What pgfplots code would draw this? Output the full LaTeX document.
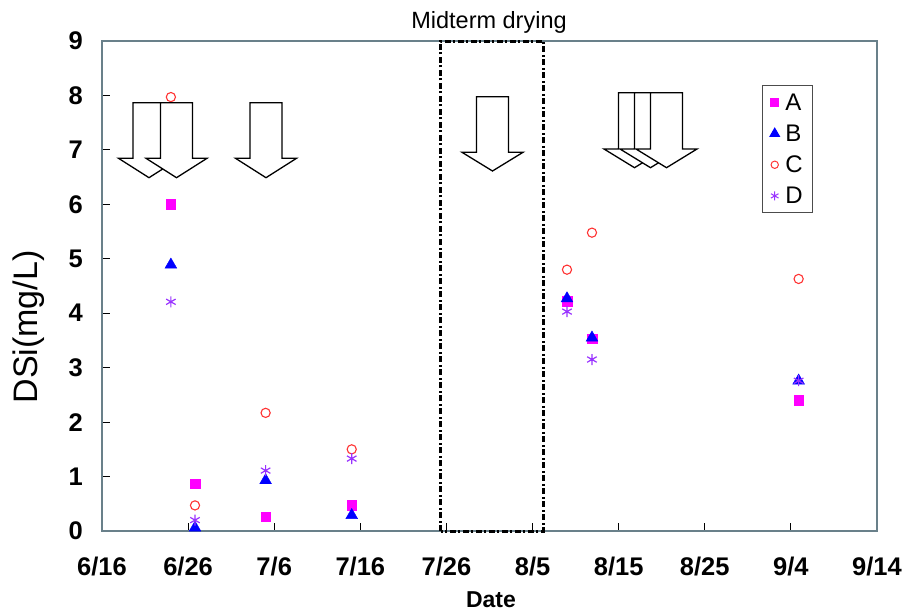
\documentclass[border=0pt]{standalone}
\usepackage{pgfplots}
\pgfplotsset{compat=1.18}
\usepackage{fontspec}
\setmainfont{Liberation Sans}
\definecolor{axcol}{RGB}{105,128,138}
\definecolor{colA}{RGB}{255,0,255}
\definecolor{colB}{RGB}{0,0,255}
\definecolor{colC}{RGB}{255,51,51}
\definecolor{colD}{RGB}{153,51,255}
\newcommand{\blockarrow}[4]{%
  \filldraw[fill=white, draw=black, line width=1.3pt, line join=miter]
  ({#1-16},{611-#2}) -- ({#1-16},{611-#3}) -- ({#1-30.5},{611-#3}) -- ({#1},{611-#4})
  -- ({#1+30.5},{611-#3}) -- ({#1+16},{611-#3}) -- ({#1+16},{611-#2}) -- cycle;}
\begin{document}
\begin{tikzpicture}[x=1pt,y=1pt]
\useasboundingbox (0pt,0pt) rectangle (904pt,611pt);
\begin{axis}[
  at={(102pt,80pt)}, anchor=south west,
  width=775pt, height=490pt, scale only axis,
  xmin=0, xmax=90, ymin=0, ymax=9,
  clip=false,
  xtick={0,10,...,90},
  xticklabels={6/16,6/26,7/6,7/16,7/26,8/5,8/15,8/25,9/4,9/14},
  ytick={0,1,...,9},
  /pgf/number format/assume math mode=true,
  tick label style={font=\fontsize{25.5}{28}\selectfont\bfseries},
  xticklabel style={inner sep=0pt, anchor=north, yshift=-26pt},
  yticklabel style={inner sep=0pt, anchor=east, xshift=-19pt},
  tick align=inside,
  xtick pos=bottom, ytick pos=left,
  major tick length=8pt,
  tick style={black, line width=1.2pt},
  axis line style={draw=axcol, line width=1.6pt},
  legend style={at={(rel axis cs:0.851,0.910)}, anchor=north west,
    draw=black!70, line width=1pt,
    nodes={font=\fontsize{24}{26}\selectfont},
    row sep=9pt, column sep=4pt,
    inner xsep=8pt, inner ysep=6pt, cells={anchor=west}},
  legend image post style={mark options={scale=0.8}},
]
\draw[line width=3pt, dash pattern=on 6pt off 2.5pt on 2pt off 2.5pt]
  (axis cs:39.33,0) rectangle (axis cs:51.25,9);
\addplot[only marks, mark=square*, mark size=4.8pt, draw=colA, fill=colA] coordinates {
  (8.0,6.00) (10.8,0.87) (19.0,0.26) (29.0,0.47) (54.0,4.22) (56.9,3.53) (80.9,2.40)};
\addlegendentry{A}
\addplot[only marks, mark=triangle*, mark size=6.8pt, draw=colB, fill=colB] coordinates {
  (8.0,4.89) (10.8,0.06) (19.0,0.93) (29.0,0.29) (54.0,4.27) (56.9,3.55) (80.9,2.76)};
\addlegendentry{B}
\addplot[only marks, mark=o, mark size=4.6pt, mark options={line width=1.1pt}, draw=colC] coordinates {
  (8.0,7.97) (10.8,0.47) (19.0,2.17) (29.0,1.50) (54.0,4.80) (56.9,5.48) (80.9,4.63)};
\addlegendentry{C}
\addplot[only marks, mark=asterisk, mark size=5.5pt, mark options={line width=1.2pt}, draw=colD] coordinates {
  (8.0,4.21) (10.8,0.20) (19.0,1.11) (29.0,1.33) (54.0,4.03) (56.9,3.15) (80.9,2.76)};
\addlegendentry{D}
\end{axis}
\blockarrow{149}{102.7}{158.3}{177.7}
\blockarrow{176.5}{102.7}{158.3}{177.7}
\blockarrow{266}{102.7}{158.3}{177.7}
\blockarrow{492.5}{96.7}{152.3}{171}
\blockarrow{634.5}{92.7}{149}{167.7}
\blockarrow{650.5}{92.7}{149}{167.7}
\blockarrow{666.5}{92.7}{149}{167.7}
\node[anchor=base, inner sep=0pt, font=\fontsize{23.5}{26}\selectfont] at (489pt,582.7pt) {Midterm drying};
\node[rotate=90, inner sep=0pt, font=\fontsize{34}{38}\selectfont] at (29pt,284pt) {DSi(mg/L)};
\node[inner sep=0pt, font=\fontsize{23}{26}\selectfont\bfseries] at (491pt,11pt) {Date};
\end{tikzpicture}
\end{document}
